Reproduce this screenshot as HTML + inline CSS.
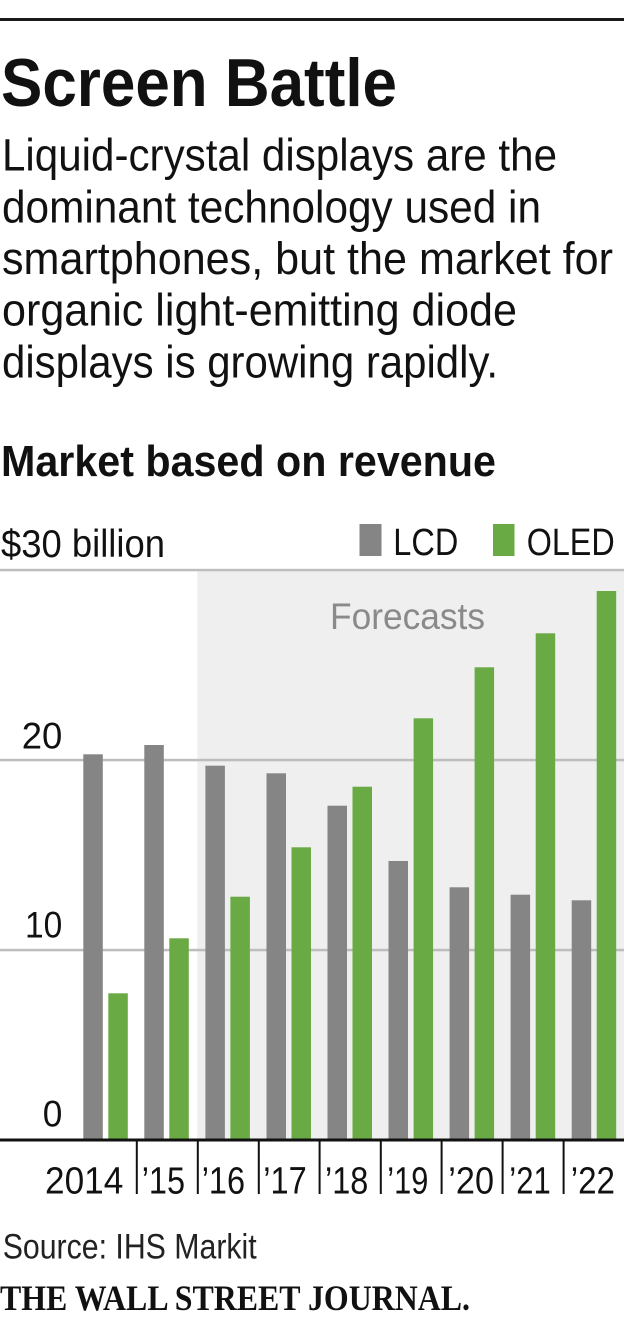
<!DOCTYPE html>
<html>
<head>
<meta charset="utf-8">
<style>
  html, body { margin: 0; padding: 0; background: #fff; }
  svg { display: block; }
  text { font-family: "Liberation Sans", "DejaVu Sans", sans-serif; fill: #111; }
  .serif { font-family: "Liberation Serif", "DejaVu Serif", serif; }
</style>
</head>
<body>
<svg width="630" height="1320" viewBox="0 0 630 1320" xmlns="http://www.w3.org/2000/svg">
  <rect x="0" y="0" width="630" height="1320" fill="#fff"/>
  <!-- top rule -->
  <rect x="0" y="18" width="624" height="3" fill="#1a1a1a"/>

  <!-- title -->
  <text x="1" y="106" font-size="68" font-weight="bold" textLength="396" lengthAdjust="spacingAndGlyphs">Screen Battle</text>

  <!-- description -->
  <g font-size="45">
    <text x="2" y="170.7" textLength="555" lengthAdjust="spacingAndGlyphs">Liquid-crystal displays are the</text>
    <text x="2" y="222.4" textLength="539" lengthAdjust="spacingAndGlyphs">dominant technology used in</text>
    <text x="2" y="274" textLength="611" lengthAdjust="spacingAndGlyphs">smartphones, but the market for</text>
    <text x="2" y="325.7" textLength="515" lengthAdjust="spacingAndGlyphs">organic light-emitting diode</text>
    <text x="2" y="377.4" textLength="496" lengthAdjust="spacingAndGlyphs">displays is growing rapidly.</text>
  </g>

  <!-- chart subtitle -->
  <text x="1" y="476" font-size="44" font-weight="bold" textLength="495" lengthAdjust="spacingAndGlyphs">Market based on revenue</text>

  <!-- unit label -->
  <text x="1" y="557" font-size="39" textLength="164" lengthAdjust="spacingAndGlyphs">$30 billion</text>

  <!-- legend -->
  <rect x="359.5" y="524" width="22" height="32" fill="#858585"/>
  <text x="393.3" y="555" font-size="38" textLength="65" lengthAdjust="spacingAndGlyphs">LCD</text>
  <rect x="493" y="524" width="21.5" height="32" fill="#6aaa45"/>
  <text x="526.7" y="555" font-size="38" textLength="88" lengthAdjust="spacingAndGlyphs">OLED</text>

  <!-- forecast shading -->
  <rect x="197.3" y="571" width="426.7" height="568" fill="#efefef"/>
  <text x="330" y="629" font-size="37" textLength="155" lengthAdjust="spacingAndGlyphs" style="fill:#8a8a8a">Forecasts</text>

  <!-- gridlines -->
  <rect x="0" y="568.8" width="624" height="2.5" fill="#bdbdbd"/>
  <rect x="0" y="758.8" width="624" height="2.5" fill="#bdbdbd"/>
  <rect x="0" y="948.8" width="624" height="2.5" fill="#bdbdbd"/>

  <!-- y labels -->
  <text x="21.7" y="748.3" font-size="37.5" textLength="40.6" lengthAdjust="spacingAndGlyphs">20</text>
  <text x="25" y="937.3" font-size="37.5" textLength="37.3" lengthAdjust="spacingAndGlyphs">10</text>
  <text x="42.7" y="1126.7" font-size="37.5" textLength="19.6" lengthAdjust="spacingAndGlyphs">0</text>

  <!-- LCD bars -->
  <g fill="#858585">
    <rect x="83.3" y="754.3" width="19.5" height="385.7"/>
    <rect x="144.3" y="745" width="19.5" height="395"/>
    <rect x="205.4" y="765.7" width="19.5" height="374.3"/>
    <rect x="266.5" y="773.3" width="19.5" height="366.7"/>
    <rect x="327.5" y="805.7" width="19.5" height="334.3"/>
    <rect x="388.5" y="861" width="19.5" height="279"/>
    <rect x="449.6" y="887.3" width="19.5" height="252.7"/>
    <rect x="510.6" y="894.7" width="19.5" height="245.3"/>
    <rect x="571.7" y="900.3" width="19.5" height="239.7"/>
  </g>
  <!-- OLED bars -->
  <g fill="#6aaa45">
    <rect x="108.3" y="993.3" width="19.5" height="146.7"/>
    <rect x="169.3" y="938.3" width="19.5" height="201.7"/>
    <rect x="230.4" y="896.7" width="19.5" height="243.3"/>
    <rect x="291.5" y="847.3" width="19.5" height="292.7"/>
    <rect x="352.5" y="786.7" width="19.5" height="353.3"/>
    <rect x="413.6" y="718.3" width="19.5" height="421.7"/>
    <rect x="474.6" y="667.3" width="19.5" height="472.7"/>
    <rect x="535.7" y="633.3" width="19.5" height="506.7"/>
    <rect x="596.7" y="591" width="19.5" height="549"/>
  </g>

  <!-- x axis -->
  <rect x="0" y="1138.5" width="624" height="3" fill="#111"/>
  <g fill="#111">
    <rect x="135.8" y="1140" width="2" height="54"/>
    <rect x="196.8" y="1140" width="2" height="54"/>
    <rect x="257.8" y="1140" width="2" height="54"/>
    <rect x="318.6" y="1140" width="2" height="54"/>
    <rect x="379.8" y="1140" width="2" height="54"/>
    <rect x="440.6" y="1140" width="2" height="54"/>
    <rect x="501.6" y="1140" width="2" height="54"/>
    <rect x="562.6" y="1140" width="2" height="54"/>
  </g>

  <!-- x labels -->
  <g font-size="38">
    <text x="45" y="1193.3" textLength="78.3" lengthAdjust="spacingAndGlyphs">2014</text>
    <text x="141.7" y="1193.3" textLength="43.3" lengthAdjust="spacingAndGlyphs">&#8217;15</text>
    <text x="201.7" y="1193.3" textLength="43.3" lengthAdjust="spacingAndGlyphs">&#8217;16</text>
    <text x="263.3" y="1193.3" textLength="43.4" lengthAdjust="spacingAndGlyphs">&#8217;17</text>
    <text x="325" y="1193.3" textLength="43.3" lengthAdjust="spacingAndGlyphs">&#8217;18</text>
    <text x="387.3" y="1193.3" textLength="41" lengthAdjust="spacingAndGlyphs">&#8217;19</text>
    <text x="448.3" y="1193.3" textLength="45.7" lengthAdjust="spacingAndGlyphs">&#8217;20</text>
    <text x="509.3" y="1193.3" textLength="41.4" lengthAdjust="spacingAndGlyphs">&#8217;21</text>
    <text x="570.7" y="1193.3" textLength="44.3" lengthAdjust="spacingAndGlyphs">&#8217;22</text>
  </g>

  <!-- source -->
  <text x="2.7" y="1258.3" font-size="35" textLength="254" lengthAdjust="spacingAndGlyphs" style="fill:#222">Source: IHS Markit</text>

  <!-- WSJ -->
  <text class="serif" x="0" y="1310" font-size="35.5" font-weight="bold" textLength="470" lengthAdjust="spacingAndGlyphs">THE WALL STREET JOURNAL.</text>
</svg>
</body>
</html>
